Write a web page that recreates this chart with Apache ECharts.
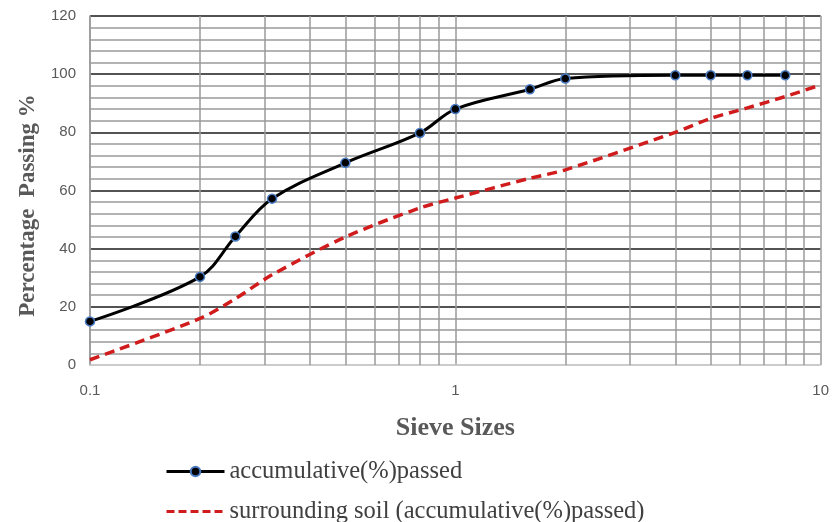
<!DOCTYPE html>
<html>

<head>
    <meta charset="utf-8">
    <title>Sieve analysis</title>
</head>

<body style="margin:0">
    <div id="main" style="width: 832px;height:522px;"></div>
    <script src="https://cdn.jsdelivr.net/npm/echarts@6/dist/echarts.min.js"></script>
    <script>
        // sieve sizes (mm) and percentage passing
        var sizes = [0.1, 0.2, 0.25, 0.315, 0.5, 0.8, 1, 1.6, 2, 4, 5, 6.3, 8];
        var passed = [15, 30.3, 44.2, 57.2, 69.5, 79.8, 88, 94.8, 98.5, 99.6, 99.6, 99.6, 99.6];

        var soilSizes = [0.1, 0.2, 0.25, 0.315, 0.5, 0.8, 1, 1.6, 2, 4, 5, 6.3, 8, 10];
        var soilPassed = [1.8, 16, 22.8, 31, 44, 54, 57.4, 64.2, 67.1, 80, 84.8, 88.4, 92.3, 96.3];

        // vertical grid lines between the decades
        var minorX = [0.2, 0.3, 0.4, 0.5, 0.6, 0.7, 0.8, 0.9, 2, 3, 4, 5, 6, 7, 8, 9];

        var pairs = function (xs, ys) {
            var out = [];
            for (var i = 0; i < xs.length; i++) {
                out.push([xs[i], ys[i]]);
            }
            return out;
        };

        var legendText = {
            fontFamily: 'Liberation Serif',
            fontSize: 24.5,
            color: '#404040'
        };

        var myChart = echarts.init(document.getElementById('main'));
        var option = {
            backgroundColor: '#fff',
            animation: false,
            grid: {
                left: 90,
                right: 11,
                top: 16,
                bottom: 157
            },
            // one legend per row so they stack like the original
            legend: [{
                    left: 160,
                    top: 454,
                    itemWidth: 58,
                    itemHeight: 12,
                    itemGap: 6,
                    textStyle: legendText,
                    data: [{
                        name: 'accumulative(%)passed',
                        lineStyle: {
                            width: 3
                        }
                    }]
                },
                {
                    left: 160,
                    top: 494,
                    itemWidth: 58,
                    itemHeight: 12,
                    textStyle: legendText,
                    data: [{
                        name: 'surrounding soil (accumulative(%)passed)',
                        itemStyle: {
                            opacity: 0
                        },
                        lineStyle: {
                            width: 3,
                            type: [8, 4]
                        }
                    }]
                }
            ],
            xAxis: {
                type: 'log',
                logBase: 10,
                min: 0.1,
                max: 10,
                name: 'Sieve Sizes',
                nameLocation: 'middle',
                nameGap: 50,
                nameTextStyle: {
                    fontFamily: 'Liberation Serif',
                    fontWeight: 'bold',
                    fontSize: 26,
                    color: '#595959'
                },
                axisLine: {
                    lineStyle: {
                        color: '#c8c8c8',
                        width: 1.5
                    }
                },
                axisTick: {
                    show: false
                },
                axisLabel: {
                    margin: 18,
                    fontFamily: 'Liberation Sans',
                    fontSize: 15,
                    color: '#595959'
                },
                splitLine: {
                    show: true,
                    lineStyle: {
                        color: '#9a9a9a',
                        width: 1.5
                    }
                }
            },
            yAxis: {
                type: 'value',
                min: 0,
                max: 120,
                interval: 20,
                name: 'Percentage  Passing %',
                nameLocation: 'middle',
                nameGap: 50,
                nameTextStyle: {
                    fontFamily: 'Liberation Serif',
                    fontWeight: 'bold',
                    fontSize: 23,
                    color: '#595959',
                    padding: [0, 30, 0, 0]
                },
                axisLine: {
                    show: true,
                    lineStyle: {
                        color: '#9a9a9a',
                        width: 1.5
                    }
                },
                axisTick: {
                    show: false
                },
                axisLabel: {
                    margin: 14,
                    fontFamily: 'Liberation Sans',
                    fontSize: 15,
                    color: '#595959'
                },
                splitLine: {
                    lineStyle: {
                        color: ['#c8c8c8', '#1a1a1a', '#1a1a1a', '#1a1a1a', '#1a1a1a', '#1a1a1a', '#1a1a1a'],
                        width: 1.5
                    }
                },
                minorTick: {
                    show: false,
                    splitNumber: 5
                },
                minorSplitLine: {
                    show: true,
                    lineStyle: {
                        color: '#9a9a9a',
                        width: 1.5
                    }
                }
            },
            series: [{
                    name: 'surrounding soil (accumulative(%)passed)',
                    type: 'line',
                    data: pairs(soilSizes, soilPassed),
                    smooth: 0.3,
                    showSymbol: false,
                    symbol: 'none',
                    z: 3,
                    lineStyle: {
                        color: '#d01c1c',
                        width: 3.5,
                        type: [10, 6]
                    },
                    itemStyle: {
                        color: '#d01c1c'
                    },
                    markLine: {
                        silent: true,
                        symbol: 'none',
                        label: {
                            show: false
                        },
                        z: 1,
                        lineStyle: {
                            color: '#9a9a9a',
                            width: 1.5,
                            type: 'solid'
                        },
                        data: minorX.map(function (v) {
                            return {
                                xAxis: v
                            };
                        })
                    }
                },
                {
                    name: 'accumulative(%)passed',
                    type: 'line',
                    data: pairs(sizes, passed),
                    smooth: 0.35,
                    symbol: 'circle',
                    symbolSize: 9,
                    z: 4,
                    lineStyle: {
                        color: '#000',
                        width: 3
                    },
                    itemStyle: {
                        color: '#000',
                        borderColor: '#4a7cc4',
                        borderWidth: 1.5
                    }
                }
            ]
        };

        myChart.setOption(option);
    </script>
</body>

</html>
